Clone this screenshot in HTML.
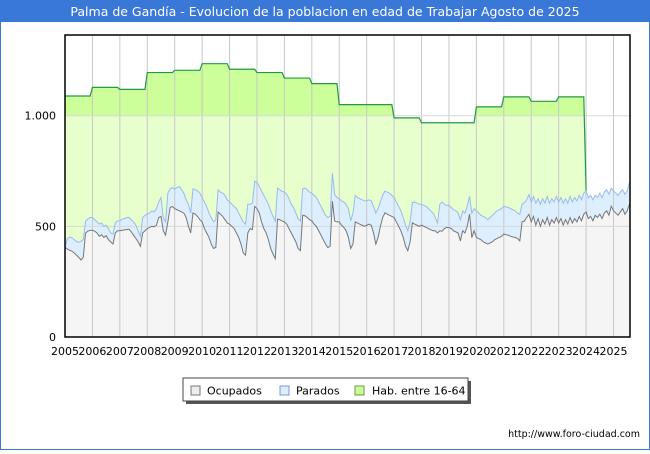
<!DOCTYPE html>
<html><head><meta charset="utf-8"><style>
html,body{margin:0;padding:0;background:#fff}
body{width:650px;height:450px;overflow:hidden;font-family:"DejaVu Sans","Liberation Sans",sans-serif}
svg text{font-family:"DejaVu Sans","Liberation Sans",sans-serif}
</style></head><body>
<svg id="c" width="650" height="450" xmlns="http://www.w3.org/2000/svg">
<rect x="0.5" y="0.5" width="649" height="449" fill="#fff" stroke="#3a78d8"/>
<rect x="0" y="0" width="650" height="22" fill="#3a78d8"/>
<text x="325" y="16" text-anchor="middle" font-size="12.5" fill="#fff">Palma de Gandía - Evolucion de la poblacion en edad de Trabajar Agosto de 2025</text>
<g id="plot"></g>
<g>
<rect x="186" y="381" width="285" height="23" fill="#555"/>
<rect x="183" y="378" width="285" height="23" fill="#fff" stroke="#444"/>
<rect x="191" y="386" width="9" height="9" fill="#eee" stroke="#777"/>
<text x="207" y="394.5" font-size="11" fill="#000">Ocupados</text>
<rect x="280" y="386" width="9" height="9" fill="#ddeeff" stroke="#7799cc"/>
<text x="296" y="394.5" font-size="11" fill="#000">Parados</text>
<rect x="355" y="386" width="9" height="9" fill="#ccff99" stroke="#669944"/>
<text x="372" y="394.5" font-size="11" fill="#000">Hab. entre 16-64</text>
</g>
<text x="640" y="437" text-anchor="end" font-size="9.5" fill="#000">http://www.foro-ciudad.com</text>
</svg>
<script>
const years=[2005,2006,2007,2008,2009,2010,2011,2012,2013,2014,2015,2016,2017,2018,2019,2020,2021,2022,2023,2024,2025];
const yTicks=[0,500,1000];
const yTickLabels=["0","500","1.000"];
const habYearly=[1089,1128,1119,1195,1205,1235,1210,1195,1170,1145,1050,1050,990,968,968,1040,1085,1065,1085];
const ocupados=[
405,398,392,388,380,370,360,348,360,470,478,482,
482,478,470,455,462,450,458,440,430,420,470,480,
480,482,484,485,487,475,460,445,430,410,470,480,
490,495,500,498,505,540,545,480,460,520,585,590,
580,575,570,565,560,540,500,470,560,555,545,530,
520,490,470,450,420,400,405,565,555,545,530,515,
510,500,490,470,450,420,380,370,470,490,485,590,
580,560,520,490,470,440,400,375,354,533,530,524,
520,510,490,470,450,430,400,390,550,548,540,530,
525,510,500,480,460,440,420,404,410,614,524,520,
520,505,495,480,450,400,420,520,515,510,505,500,
505,510,505,470,420,450,500,540,561,555,550,545,
540,520,500,479,450,410,390,430,516,510,505,500,
505,500,495,490,485,480,480,470,480,478,490,495,
495,490,480,475,470,434,480,470,500,555,449,480,
450,445,440,430,425,420,425,430,440,445,450,455,
465,462,460,455,452,450,445,434,520,524,540,554,
520,545,505,535,500,530,510,540,505,530,515,540,
515,535,505,530,510,540,515,535,520,545,525,555,
565,535,545,525,550,540,555,535,560,570,550,591,
570,560,550,565,580,555,570,600];
const parados=[
0,45,60,60,60,62,68,85,80,52,55,58,
58,52,50,55,53,50,47,50,40,45,45,45,
45,50,51,55,53,55,60,60,50,45,70,70,
65,65,70,67,75,70,85,60,60,130,85,85,
88,100,110,100,90,80,100,90,110,110,115,120,
110,120,120,110,120,120,125,100,100,105,110,105,
100,100,100,110,110,120,140,140,130,110,120,113,
120,120,140,150,150,160,170,170,170,140,135,134,
135,135,135,130,135,130,135,134,120,125,125,125,
125,130,130,130,130,130,130,136,135,126,119,110,
105,110,115,120,130,125,140,120,115,115,115,115,
110,110,110,120,140,130,110,100,98,100,100,95,
90,90,90,90,90,95,90,90,91,100,100,100,
95,95,95,90,85,80,60,45,120,132,110,100,
100,95,95,95,90,96,90,90,90,81,111,100,
120,115,110,115,115,110,115,120,120,125,125,125,
125,126,125,125,123,120,115,120,80,83,80,89,
90,90,100,90,100,95,95,95,100,95,95,95,
95,95,100,95,95,95,95,95,95,95,95,95,
95,95,95,95,90,90,95,95,95,95,95,82,
90,90,90,90,85,90,90,100];

const NS="http://www.w3.org/2000/svg";
const L=65,R=630,T=35,B=337,VMAX=(B-T)/((B-115.7)/1000);
const N=ocupados.length;
const xm=i=>L+i*(R-0.5-L)/(N-1);
const xYear=k=>L+k*12*(R-0.5-L)/(N-1);
const y=v=>B-v*(B-T)/VMAX;
const g=document.getElementById('plot');
function mk(t,a){const e=document.createElementNS(NS,t);for(const k in a)e.setAttribute(k,a[k]);g.appendChild(e);return e;}
const tot=ocupados.map((v,i)=>v+parados[i]);
const habPts=[];
for(let i=0;i<habYearly.length*12&&i<N;i++)habPts.push([xm(i),y(habYearly[Math.floor(i/12)])]);
const hi=habYearly.length*12;
habPts.push([xm(hi),y(tot[hi])]);
const line=p=>p.map((q,i)=>(i?'L':'M')+q[0].toFixed(2)+','+q[1].toFixed(2)).join('');
const area=p=>line(p)+'L'+p[p.length-1][0].toFixed(2)+','+B+'L'+p[0][0].toFixed(2)+','+B+'Z';
const defs=document.createElementNS(NS,'defs');g.appendChild(defs);
const cp=document.createElementNS(NS,'clipPath');cp.setAttribute('id','top1000');defs.appendChild(cp);
const cr=document.createElementNS(NS,'rect');cr.setAttribute('x',L);cr.setAttribute('y',T);cr.setAttribute('width',R-L);cr.setAttribute('height',y(1000)-T);cp.appendChild(cr);
let e;
e=mk('path',{d:area(habPts),fill:'#e6ffcc'});


e=mk('path',{d:area(habPts),fill:'#ccff99','clip-path':'url(#top1000)'});


const totPts=tot.map((v,i)=>[xm(i),y(v)]);
const ocPts=ocupados.map((v,i)=>[xm(i),y(v)]);
e=mk('path',{d:area(totPts),fill:'#ddeeff'});


e=mk('path',{d:area(ocPts),fill:'#f5f5f5'});


years.forEach((yr,k)=>{const x=xYear(k);
 if(k>0&&x<R){e=mk('line',{x1:x,x2:x,y1:T,y2:B,stroke:'#c8c8c8','stroke-width':1});
 
 }
 e=mk('text',{x:x,y:355,'text-anchor':'middle','font-size':11,fill:'#000'});e.textContent=yr;
 
 
});
yTicks.forEach((v,k)=>{
 if(v>0){e=mk('line',{x1:L,x2:R,y1:y(v),y2:y(v),stroke:'#d8d8d8','stroke-width':1});
 
 }
 e=mk('text',{x:56,y:y(v)+4,'text-anchor':'end','font-size':11,fill:'#000'});e.textContent=yTickLabels[k];
 
 
});
e=mk('path',{d:line(habPts),fill:'none',stroke:'#229944','stroke-width':1.2});


e=mk('path',{d:line(totPts),fill:'none',stroke:'#99bbee','stroke-width':1});


e=mk('path',{d:line(ocPts),fill:'none',stroke:'#777','stroke-width':1});


e=mk('rect',{x:L,y:T,width:R-L,height:B-T,fill:'none',stroke:'#000','stroke-width':1.5});


</script>
</body></html>
